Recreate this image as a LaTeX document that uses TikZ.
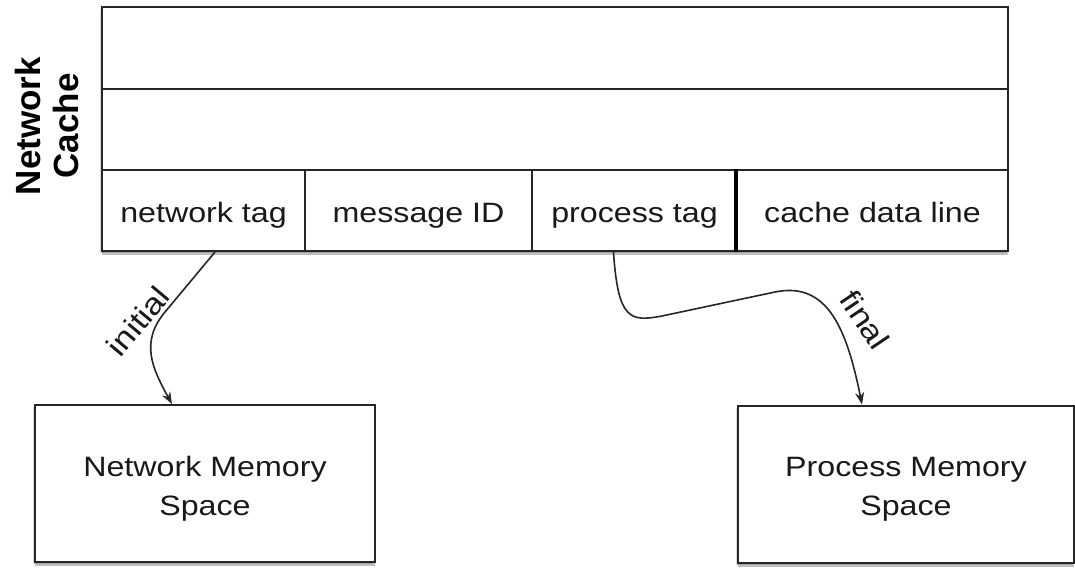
\documentclass[tikz,border=0pt]{standalone}
\usepackage{fontspec}
\setmainfont{Liberation Sans}[FakeStretch=1.15]
\newfontfamily\headsans{Liberation Sans}
\usetikzlibrary{shadows,arrows.meta}

\begin{document}
\begin{tikzpicture}[x=0.5pt,y=-0.5pt,
  ink/.style={draw=black!85, line width=1pt},
  softshadow/.style={drop shadow={shadow xshift=0pt, shadow yshift=-2pt, opacity=0.25, fill=black},
                     drop shadow={shadow xshift=-1pt, shadow yshift=-1pt, opacity=0.15, fill=black}},
  cell/.style={ink, fill=white, inner sep=0pt, minimum height=40.5pt,
               text height=13pt, text depth=1pt,
               font=\fontsize{14}{17}\selectfont, text=black!90},
  membox/.style={ink, fill=white, softshadow, inner sep=0pt},
  memtext/.style={inner sep=0pt, align=center, font=\fontsize{14}{19.5}\selectfont, text=black!90},
  lbl/.style={inner sep=0pt, font=\fontsize{15}{17}\selectfont, text=black!90},
  conn/.style={draw=black!85, line width=0.8pt, -{Stealth[length=6pt,width=4.5pt]}}
]
  \useasboundingbox (0,0) rectangle (1075,571);

  % network cache frame and its three rows
  \node[ink, fill=white, softshadow, minimum width=453pt, minimum height=122pt, inner sep=0pt] (cache) at (555,129) {};
  \node[cell, minimum width=453pt, minimum height=41pt] (rowa) at (555,48) {};
  \node[cell, minimum width=453pt] (rowb) at (555,129.5) {};
  \node[cell, minimum width=101.5pt] (nettag)  at (203.5,210.5) {network tag};
  \node[cell, minimum width=113.5pt] (msgid)   at (418.5,210.5) {message ID};
  \node[cell, minimum width=102.5pt] (proctag) at (634.5,210.5) {process tag};
  \node[cell, minimum width=135.5pt] (cdl)     at (872.5,210.5) {cache data line};
  \draw[draw=black, line width=1.6pt] (cdl.north west) -- (cdl.south west);

  \node[rotate=90, align=center, inner sep=0pt, text=black,
        font=\fontsize{17.5}{19}\headsans\bfseries\selectfont] (cachelbl) at (46.5,126) {Network\\Cache};

  % memory spaces
  \node[membox, minimum width=170pt, minimum height=78.5pt] (netmem) at (205,483.5) {};
  \node[memtext] (netmemtxt) at (205,489) {Network Memory\\Space};
  \node[membox, minimum width=168pt, minimum height=78.5pt] (procmem) at (906,484) {};
  \node[memtext] (procmemtxt) at (906,489) {Process Memory\\Space};

  % connectors
  \draw[conn] ([xshift=5.75pt]nettag.south) -- (165,312)
     .. controls (140,342) and (152,368) .. ([xshift=-16.5pt]netmem.north);
  \node[lbl, rotate=50] (initlbl) at (138,321) {initial};

  \draw[conn] ([xshift=-10.5pt]proctag.south)
     .. controls (618,320) and (630,322) .. (662,316) -- (775,292)
     .. controls (828,281) and (847,330) .. ([xshift=-22pt]procmem.north);
  \node[lbl, rotate=-56] (finallbl) at (865,320) {final};
\end{tikzpicture}
\end{document}
